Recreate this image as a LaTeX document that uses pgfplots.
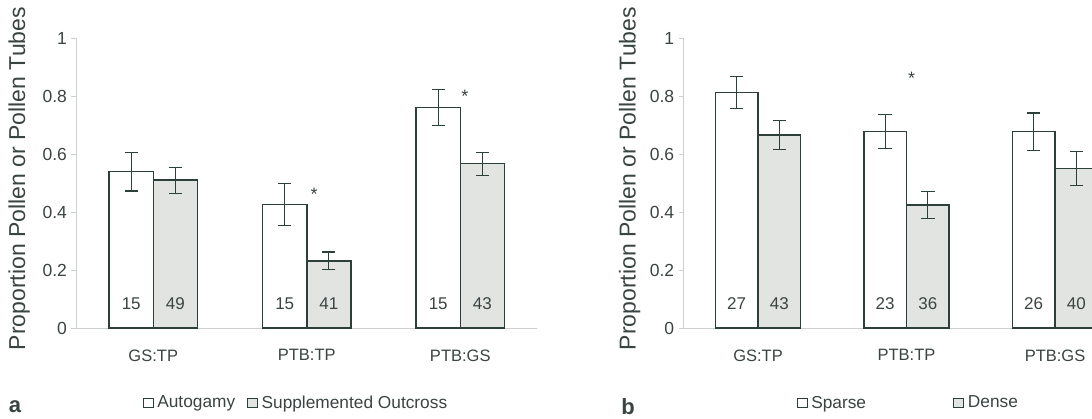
\documentclass[border=0pt]{standalone}
\usepackage{pgfplots}
\pgfplotsset{compat=1.18}
\usepackage{pgfplotstable}
\usepackage{fontspec}
\setmainfont{Liberation Sans}
\definecolor{textc}{RGB}{58,68,66}
\definecolor{barc}{RGB}{45,63,59}
\definecolor{fillc}{RGB}{226,228,226}
\definecolor{axc}{RGB}{205,208,206}

\pgfplotstableread{
x y err
0 0.540 0.067
1 0.426 0.073
2 0.761 0.063
}\tabAauto
\pgfplotstableread{
x y err
0 0.510 0.045
1 0.232 0.030
2 0.567 0.040
}\tabAsupp
\pgfplotstableread{
x y err
0 0.813 0.056
1 0.678 0.058
2 0.678 0.064
}\tabBsparse
\pgfplotstableread{
x y err
0 0.666 0.050
1 0.424 0.047
2 0.551 0.059
}\tabBdense

\pgfplotsset{
  panel/.style={
    scale only axis,
    height=289.7pt,
    xmin=-0.5, xmax=2.5,
    ymin=0, ymax=1,
    axis x line*=bottom,
    axis y line*=left,
    axis line style={draw=axc, line width=0.8pt, -},
    ytick={0,0.2,0.4,0.6,0.8,1},
    yticklabels={0,0.2,0.4,0.6,0.8,1},
    xtick={0,1,2},
    xticklabels={GS:TP,PTB:TP,PTB:GS},
    xtick style={draw=none},
    ytick style={draw=axc, line width=0.8pt},
    major tick length=5pt,
    tick align=outside,
    yticklabel style={font=\fontsize{17.5}{21}\selectfont, text=textc, xshift=-1pt},
    xticklabel style={font=\fontsize{16.5}{19}\selectfont, text=textc, yshift=-13pt},
    ylabel={Proportion Pollen or Pollen Tubes},
    ylabel style={font=\fontsize{23}{27}\selectfont, text=textc, rotate=0},
    legend columns=2,
    legend style={draw=none, fill=none, anchor=west,
      font=\fontsize{17.3}{20}\selectfont, text=textc,
      nodes={inner sep=0pt},
      /tikz/every odd column/.append style={column sep=4pt}},
    legend image code/.code={\draw[draw=barc, line width=0.8pt, #1] (0pt,-4.5pt) rectangle (10pt,4.5pt);},
    clip=false,
  },
  mybar/.style={ybar, bar width=0.287, bar shift=0, draw=barc, line width=1.5pt,
    error bars/y dir=both, error bars/y explicit,
    error bars/error bar style={draw=barc, line width=1.2pt},
    error bars/error mark options={rotate=90, mark size=6.7pt, draw=barc, line width=1.2pt}},
  cnt/.style={only marks, mark=none, nodes near coords, point meta=explicit symbolic,
    nodes near coords align={center},
    every node near coord/.append style={font=\fontsize{17}{20}\selectfont, text=textc, anchor=center}},
  star/.style={only marks, mark=none, nodes near coords, point meta=explicit symbolic,
    nodes near coords align={center},
    every node near coord/.append style={font=\fontsize{18}{21}\selectfont, text=textc, anchor=center}},
}

\begin{document}
\begin{tikzpicture}
\begin{axis}[panel, width=460.5pt, at={(76.5pt,91pt)}, anchor=south west,
  ylabel style={at={(axis description cs:-0.1244,0.516)}, anchor=center},
  legend style={at={(axis description cs:0.1364,-0.258)},
    /tikz/every even column/.append style={column sep=11.6pt}}]
\addplot[mybar, fill=white] table[x expr=\thisrow{x}-0.1435, y=y, y error=err] {\tabAauto};
\addlegendentry{Autogamy}
\addplot[mybar, fill=fillc] table[x expr=\thisrow{x}+0.1435, y=y, y error=err] {\tabAsupp};
\addlegendentry{Supplemented Outcross}
\addplot[cnt, forget plot] coordinates {(-0.1435,0.085) [15] (0.8565,0.085) [15] (1.8565,0.085) [15]};
\addplot[cnt, forget plot] coordinates {(0.1435,0.085) [49] (1.1435,0.085) [41] (2.1435,0.085) [43]};
\addplot[star, forget plot] coordinates {(1.048,0.462) [*] (2.03,0.799) [*]};
\end{axis}

\begin{axis}[panel, width=445.5pt, at={(683.75pt,91pt)}, anchor=south west,
  ylabel style={at={(axis description cs:-0.1215,0.516)}, anchor=center},
  legend style={at={(axis description cs:0.2459,-0.258)},
    /tikz/every even column/.append style={column sep=87pt}}]
\addplot[mybar, fill=white] table[x expr=\thisrow{x}-0.1435, y=y, y error=err] {\tabBsparse};
\addlegendentry{Sparse}
\addplot[mybar, fill=fillc] table[x expr=\thisrow{x}+0.1435, y=y, y error=err] {\tabBdense};
\addlegendentry{Dense}
\addplot[cnt, forget plot] coordinates {(-0.1435,0.085) [27] (0.8565,0.085) [23] (1.8565,0.085) [26]};
\addplot[cnt, forget plot] coordinates {(0.1435,0.085) [43] (1.1435,0.085) [36] (2.1435,0.085) [40]};
\addplot[star, forget plot] coordinates {(1.034,0.862) [*]};
\end{axis}

\node[font=\bfseries\fontsize{22}{25}\selectfont, text=textc] at (15pt,12pt) {a};
\node[font=\bfseries\fontsize{22}{25}\selectfont, text=textc] at (628pt,12pt) {b};

\pgfresetboundingbox
\useasboundingbox (0pt,0pt) rectangle (1092pt,419pt);
\end{tikzpicture}
\end{document}
